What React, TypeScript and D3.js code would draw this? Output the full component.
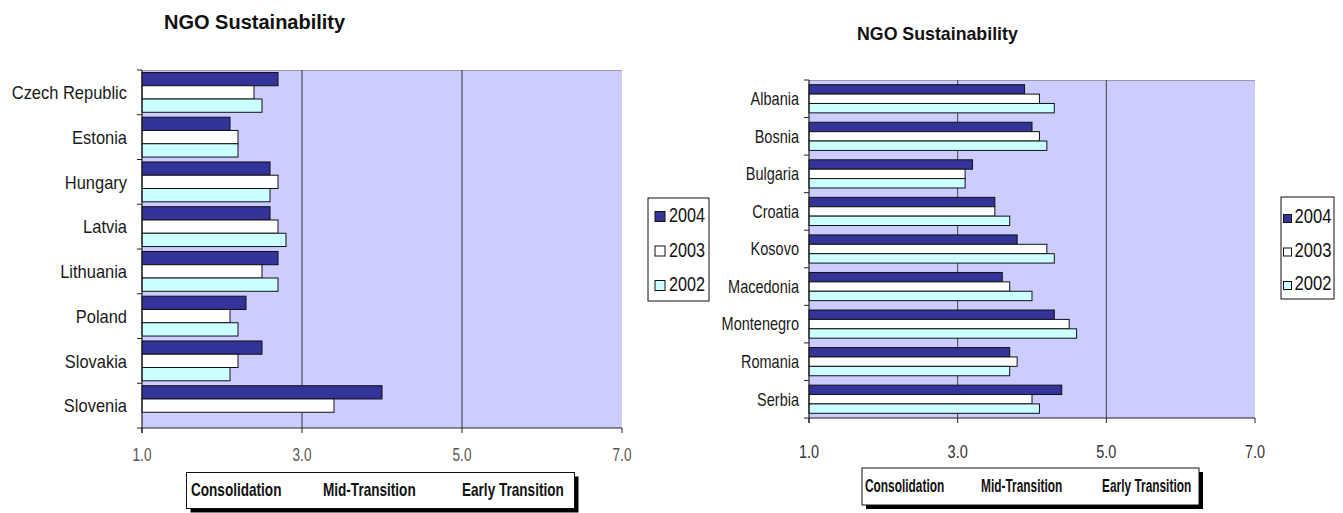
import React from 'react';
import * as d3 from 'd3';

// ---------- data ----------
const SERIES = ['2004', '2003', '2002'];
const SERIES_COLORS = ['#333399', '#FFFFFF', '#CCFFFF'];

const leftCountries = ['Czech Republic', 'Estonia', 'Hungary', 'Latvia', 'Lithuania', 'Poland', 'Slovakia', 'Slovenia'];
const left2004 = [2.7, 2.1, 2.6, 2.6, 2.7, 2.3, 2.5, 4.0];
const left2003 = [2.4, 2.2, 2.7, 2.7, 2.5, 2.1, 2.2, 3.4];
const left2002: (number | null)[] = [2.5, 2.2, 2.6, 2.8, 2.7, 2.2, 2.1, null];

const rightCountries = ['Albania', 'Bosnia', 'Bulgaria', 'Croatia', 'Kosovo', 'Macedonia', 'Montenegro', 'Romania', 'Serbia'];
const right2004 = [3.9, 4.0, 3.2, 3.5, 3.8, 3.6, 4.3, 3.7, 4.4];
const right2003 = [4.1, 4.1, 3.1, 3.5, 4.2, 3.7, 4.5, 3.8, 4.0];
const right2002 = [4.3, 4.2, 3.1, 3.7, 4.3, 4.0, 4.6, 3.7, 4.1];

const xTicks = [1, 3, 5, 7];
const gridValues = [3, 5];
const stageLabels = ['Consolidation', 'Mid-Transition', 'Early Transition'];
const TITLE = 'NGO Sustainability';

const FONT = 'Arial, "Liberation Sans", Helvetica, sans-serif';

function Txt(props: any) {
  const { x, y, size, sx = 1, anchor = 'start', weight = 'normal', fill = '#111', children } = props;
  return (
    <text
      transform={`translate(${x},${y}) scale(${sx},1)`}
      fontSize={size}
      textAnchor={anchor}
      fontWeight={weight}
      fill={fill}
      fontFamily={FONT}
    >
      {children}
    </text>
  );
}

function Panel(props: any) {
  const { cfg, countries, values } = props;
  const x = d3.scaleLinear().domain([1, 7]).range([cfg.x0, cfg.x1]);
  const y = d3
    .scaleBand<string>()
    .domain(countries)
    .range([cfg.y0, cfg.y1])
    .paddingInner(cfg.pad)
    .paddingOuter(cfg.pad / 2);
  const ys = d3.scaleBand<string>().domain(SERIES).range([0, y.bandwidth()]);
  const step = y.step();
  const fmt = d3.format('.1f');

  return (
    <g>
      <Txt x={cfg.titleX} y={cfg.titleY} size={cfg.titleSize} sx={cfg.titleSx} weight="bold" fill="#111">
        {TITLE}
      </Txt>
      {/* plot background */}
      <rect x={cfg.x0} y={cfg.y0} width={cfg.x1 - cfg.x0} height={cfg.y1 - cfg.y0} fill="#CCCCFF" />
      <line x1={cfg.x0} x2={cfg.x1} y1={cfg.y0 + 0.5} y2={cfg.y0 + 0.5} stroke="#9a9aa8" strokeWidth={1} />
      {gridValues.map((v) => (
        <line key={v} x1={x(v)} x2={x(v)} y1={cfg.y0} y2={cfg.y1} stroke={cfg.gridColor} strokeWidth={1} />
      ))}
      {/* bars */}
      {countries.map((c: string, i: number) => (
        <g key={c}>
          {SERIES.map((s, j) => {
            const v = values[j][i];
            if (v == null) return null;
            return (
              <rect
                key={s}
                x={x(1)}
                y={(y(c) as number) + (ys(s) as number)}
                width={x(v) - x(1)}
                height={ys.bandwidth()}
                fill={SERIES_COLORS[j]}
                stroke="#111"
                strokeWidth={1}
              />
            );
          })}
        </g>
      ))}
      {/* y axis */}
      <line x1={cfg.x0} x2={cfg.x0} y1={cfg.y0} y2={cfg.y1 + 5} stroke="#222" strokeWidth={1.2} />
      {d3.range(countries.length + 1).map((i) => (
        <line key={i} x1={cfg.x0 - 5} x2={cfg.x0} y1={cfg.y0 + i * step} y2={cfg.y0 + i * step} stroke="#222" strokeWidth={1} />
      ))}
      {countries.map((c: string) => (
        <Txt key={c} x={cfg.labelX} y={(y(c) as number) + y.bandwidth() / 2 + cfg.catSize * 0.36} size={cfg.catSize} sx={cfg.catSx} anchor="end" fill="#1a1a1a">
          {c}
        </Txt>
      ))}
      {/* x axis */}
      <line x1={cfg.x0} x2={cfg.x1} y1={cfg.y1} y2={cfg.y1} stroke="#222" strokeWidth={1.2} />
      {xTicks.map((t) => (
        <g key={t}>
          <line x1={x(t)} x2={x(t)} y1={cfg.y1} y2={cfg.y1 + 5} stroke="#222" strokeWidth={1} />
          <Txt x={x(t)} y={cfg.tickY} size={cfg.tickSize} sx={cfg.tickSx} anchor="middle" fill={cfg.tickColor}>
            {fmt(t)}
          </Txt>
        </g>
      ))}
      {/* legend */}
      <rect x={cfg.legX} y={cfg.legY} width={cfg.legW} height={cfg.legH} fill="#fff" stroke="#111" strokeWidth={1} />
      {SERIES.map((s, j) => {
        const base = cfg.legBase + j * cfg.legStep;
        return (
          <g key={s}>
            <rect x={cfg.legSqX} y={base - cfg.legSq - 0.5} width={cfg.legSq} height={cfg.legSq} fill={SERIES_COLORS[j]} stroke="#111" strokeWidth={1} />
            <Txt x={cfg.legTextX} y={base} size={cfg.legSize} sx={cfg.legSx} fill="#111">
              {s}
            </Txt>
          </g>
        );
      })}
      {/* stage box */}
      <rect x={cfg.boxX + 4} y={cfg.boxY + 4} width={cfg.boxW} height={cfg.boxH} fill="#000" />
      <rect x={cfg.boxX} y={cfg.boxY} width={cfg.boxW} height={cfg.boxH} fill="#fff" stroke="#111" strokeWidth={1} />
      {stageLabels.map((s, k) => (
        <Txt key={s} x={cfg.stageX[k]} y={cfg.stageY} size={cfg.stageSize} sx={cfg.stageSx} weight="bold" fill="#111">
          {s}
        </Txt>
      ))}
    </g>
  );
}

const leftCfg = {
  x0: 142, x1: 622, y0: 70, y1: 428, pad: 0.11,
  titleX: 164, titleY: 29, titleSize: 20, titleSx: 1,
  gridColor: '#333',
  labelX: 127, catSize: 18.5, catSx: 0.89,
  tickY: 461, tickSize: 18.6, tickSx: 0.73, tickColor: '#555',
  legX: 648, legY: 198, legW: 61, legH: 103, legBase: 222, legStep: 34.5, legSq: 10, legSqX: 655, legTextX: 669, legSize: 21, legSx: 0.77,
  boxX: 186.5, boxY: 472.5, boxW: 388, boxH: 36,
  stageX: [191, 323, 462], stageY: 496, stageSize: 18.6, stageSx: 0.73,
};

const rightCfg = {
  x0: 809, x1: 1255, y0: 80, y1: 418, pad: 0.25,
  titleX: 857, titleY: 40, titleSize: 18.5, titleSx: 0.96,
  gridColor: '#444',
  labelX: 799, catSize: 17.7, catSx: 0.82,
  tickY: 458, tickSize: 18.6, tickSx: 0.78, tickColor: '#333',
  legX: 1281, legY: 197, legW: 53, legH: 102, legBase: 223, legStep: 33.5, legSq: 8, legSqX: 1283.5, legTextX: 1294.5, legSize: 21, legSx: 0.79,
  boxX: 862, boxY: 468, boxW: 337, boxH: 37,
  stageX: [865, 981, 1102], stageY: 492, stageSize: 17.5, stageSx: 0.68,
};

export default function App() {
  return (
    <svg
      width={1343}
      height={513}
      viewBox="0 0 1343 513"
      style={{ position: 'absolute', left: 0, top: 0, background: '#fff' }}
    >
      <rect x={0} y={0} width={1343} height={513} fill="#fff" />
      <Panel cfg={leftCfg} countries={leftCountries} values={[left2004, left2003, left2002]} />
      <Panel cfg={rightCfg} countries={rightCountries} values={[right2004, right2003, right2002]} />
    </svg>
  );
}
